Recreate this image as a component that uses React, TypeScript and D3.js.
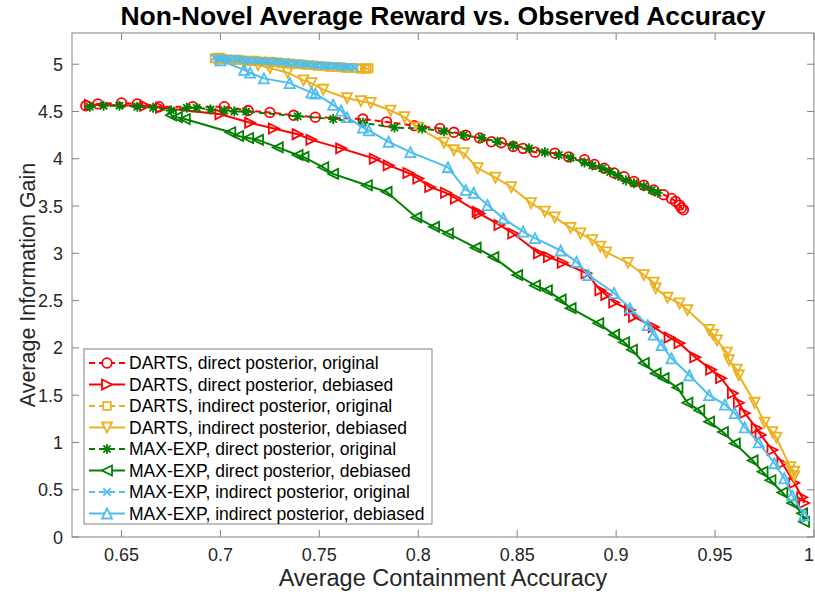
import React from 'react'
import * as d3 from 'd3'

// axis ticks
const xTicks = [0.65, 0.7, 0.75, 0.8, 0.85, 0.9, 0.95, 1]
const yTicks = [0, 0.5, 1, 1.5, 2, 2.5, 3, 3.5, 4, 4.5, 5]

// series: [containment accuracy, information gain]
const dartsDirectOrig = [[0.632,4.56],[0.638,4.58],[0.650,4.59],[0.658,4.58],[0.669,4.55],[0.686,4.55],[0.702,4.55],[0.714,4.51],[0.725,4.49],[0.737,4.46],[0.748,4.44],[0.772,4.42],[0.784,4.39],[0.798,4.35],[0.811,4.32],[0.818,4.28],[0.824,4.25],[0.831,4.22],[0.837,4.18],[0.842,4.17],[0.848,4.13],[0.853,4.11],[0.859,4.07],[0.869,4.06],[0.876,4.02],[0.884,3.99],[0.889,3.94],[0.894,3.90],[0.899,3.85],[0.904,3.81],[0.909,3.76],[0.914,3.72],[0.919,3.67],[0.924,3.62],[0.928,3.58],[0.930,3.55],[0.932,3.51],[0.933,3.48],[0.934,3.46]]
const dartsDirectDeb = [[0.634,4.57],[0.662,4.56],[0.670,4.54],[0.700,4.47],[0.715,4.38],[0.727,4.32],[0.739,4.26],[0.746,4.20],[0.761,4.11],[0.778,4.00],[0.785,3.93],[0.795,3.85],[0.800,3.79],[0.806,3.70],[0.814,3.64],[0.819,3.58],[0.830,3.44],[0.831,3.42],[0.841,3.30],[0.848,3.21],[0.861,3.00],[0.866,2.96],[0.873,2.90],[0.885,2.79],[0.892,2.61],[0.895,2.56],[0.899,2.48],[0.907,2.40],[0.909,2.33],[0.919,2.22],[0.927,2.11],[0.932,2.05],[0.940,1.90],[0.948,1.77],[0.953,1.68],[0.959,1.52],[0.962,1.42],[0.965,1.31],[0.971,1.15],[0.973,1.08],[0.979,0.92],[0.984,0.78],[0.990,0.57],[0.994,0.42],[0.995,0.36]]
const dartsIndirectOrig = [[0.697,5.06],[0.699,5.05],[0.701,5.06],[0.703,5.05],[0.705,5.05],[0.707,5.04],[0.709,5.05],[0.711,5.04],[0.713,5.04],[0.715,5.03],[0.717,5.04],[0.719,5.03],[0.721,5.03],[0.723,5.02],[0.725,5.03],[0.727,5.02],[0.729,5.02],[0.731,5.01],[0.733,5.01],[0.735,5.01],[0.737,5.00],[0.739,5.00],[0.741,5.00],[0.743,4.99],[0.745,4.99],[0.747,4.99],[0.749,4.98],[0.751,4.98],[0.753,4.98],[0.755,4.97],[0.757,4.97],[0.759,4.97],[0.761,4.97],[0.763,4.96],[0.765,4.96],[0.767,4.96],[0.769,4.96],[0.771,4.95],[0.773,4.96],[0.774,4.95],[0.775,4.96]]
const dartsIndirectDeb = [[0.699,5.06],[0.712,5.01],[0.719,4.99],[0.725,4.96],[0.734,4.91],[0.742,4.83],[0.746,4.80],[0.752,4.73],[0.764,4.64],[0.771,4.61],[0.776,4.59],[0.786,4.51],[0.793,4.44],[0.800,4.33],[0.813,4.17],[0.818,4.09],[0.823,4.06],[0.830,3.90],[0.839,3.80],[0.847,3.70],[0.857,3.53],[0.864,3.44],[0.869,3.38],[0.877,3.27],[0.882,3.21],[0.888,3.14],[0.892,3.07],[0.895,3.01],[0.906,2.90],[0.914,2.77],[0.919,2.69],[0.920,2.63],[0.926,2.53],[0.932,2.47],[0.936,2.40],[0.947,2.19],[0.949,2.14],[0.951,2.08],[0.956,1.95],[0.957,1.87],[0.961,1.77],[0.962,1.71],[0.970,1.42],[0.975,1.21],[0.979,1.11],[0.981,1.05],[0.988,0.74],[0.990,0.69],[0.990,0.64]]
const maxExpDirectOrig = [[0.634,4.55],[0.641,4.56],[0.649,4.56],[0.658,4.55],[0.666,4.54],[0.675,4.51],[0.683,4.54],[0.688,4.54],[0.695,4.52],[0.702,4.51],[0.707,4.50],[0.713,4.50],[0.739,4.45],[0.757,4.42],[0.772,4.38],[0.788,4.33],[0.802,4.32],[0.813,4.29],[0.823,4.25],[0.832,4.22],[0.840,4.18],[0.848,4.14],[0.856,4.11],[0.864,4.07],[0.871,4.04],[0.877,4.01],[0.884,3.96],[0.888,3.93],[0.893,3.90],[0.897,3.86],[0.901,3.82],[0.905,3.77],[0.909,3.74],[0.914,3.71],[0.918,3.67],[0.921,3.64]]
const maxExpDirectDeb = [[0.675,4.46],[0.678,4.44],[0.682,4.42],[0.705,4.28],[0.709,4.24],[0.714,4.22],[0.719,4.20],[0.729,4.12],[0.739,4.04],[0.742,4.02],[0.752,3.91],[0.757,3.84],[0.774,3.72],[0.784,3.65],[0.799,3.38],[0.808,3.28],[0.815,3.21],[0.829,3.06],[0.838,2.96],[0.850,2.77],[0.859,2.66],[0.865,2.61],[0.872,2.51],[0.877,2.42],[0.891,2.26],[0.899,2.14],[0.904,2.06],[0.908,1.98],[0.914,1.84],[0.920,1.73],[0.924,1.68],[0.931,1.58],[0.936,1.42],[0.942,1.34],[0.947,1.22],[0.954,1.11],[0.960,0.99],[0.969,0.81],[0.974,0.69],[0.978,0.60],[0.984,0.47],[0.989,0.36],[0.994,0.25],[0.995,0.16]]
const maxExpIndirectOrig = [[0.697,5.07],[0.699,5.06],[0.701,5.06],[0.703,5.06],[0.705,5.05],[0.707,5.06],[0.709,5.05],[0.711,5.05],[0.713,5.04],[0.715,5.04],[0.717,5.04],[0.719,5.03],[0.721,5.04],[0.723,5.03],[0.725,5.03],[0.727,5.02],[0.729,5.03],[0.731,5.02],[0.733,5.02],[0.735,5.01],[0.737,5.01],[0.739,5.01],[0.741,5.00],[0.743,5.00],[0.745,5.00],[0.747,4.99],[0.749,4.99],[0.751,4.99],[0.753,4.98],[0.755,4.98],[0.757,4.98],[0.759,4.98],[0.761,4.97],[0.763,4.97],[0.765,4.97],[0.767,4.97],[0.768,4.96]]
const maxExpIndirectDeb = [[0.700,5.04],[0.712,4.94],[0.715,4.91],[0.722,4.85],[0.735,4.80],[0.746,4.70],[0.748,4.69],[0.757,4.57],[0.761,4.51],[0.764,4.44],[0.772,4.33],[0.775,4.30],[0.785,4.18],[0.796,4.07],[0.815,3.91],[0.824,3.67],[0.828,3.64],[0.835,3.51],[0.843,3.37],[0.853,3.23],[0.859,3.16],[0.872,3.03],[0.880,2.91],[0.886,2.77],[0.899,2.58],[0.907,2.42],[0.916,2.24],[0.919,2.14],[0.923,2.03],[0.928,1.89],[0.937,1.71],[0.947,1.50],[0.955,1.40],[0.960,1.31],[0.965,1.16],[0.972,1.00],[0.980,0.78],[0.985,0.62],[0.989,0.44],[0.995,0.23]]

const series = [
  { name: 'DARTS, direct posterior, original', data: dartsDirectOrig, color: '#FF0000', dash: '6 4', marker: 'circle' },
  { name: 'DARTS, direct posterior, debiased', data: dartsDirectDeb, color: '#FF0000', dash: null, marker: 'triRight' },
  { name: 'DARTS, indirect posterior, original', data: dartsIndirectOrig, color: '#EDB120', dash: '6 4', marker: 'square' },
  { name: 'DARTS, indirect posterior, debiased', data: dartsIndirectDeb, color: '#EDB120', dash: null, marker: 'triDown' },
  { name: 'MAX-EXP, direct posterior, original', data: maxExpDirectOrig, color: '#008000', dash: '6 4', marker: 'asterisk' },
  { name: 'MAX-EXP, direct posterior, debiased', data: maxExpDirectDeb, color: '#008000', dash: null, marker: 'triLeft' },
  { name: 'MAX-EXP, indirect posterior, original', data: maxExpIndirectOrig, color: '#4DBEEE', dash: '6 4', marker: 'cross' },
  { name: 'MAX-EXP, indirect posterior, debiased', data: maxExpIndirectDeb, color: '#4DBEEE', dash: null, marker: 'triUp' },
]

const W = 815, H = 598
const M = { left: 72, right: 814, top: 33, bottom: 537 }
const FONT = '"Liberation Sans", Arial, Helvetica, sans-serif'

// marker outline around (0,0)
function markerPath(kind: string): string {
  const h = 5
  const d = h * 0.72
  switch (kind) {
    case 'triRight': return `M${-h},${-h}L${h},0L${-h},${h}Z`
    case 'triLeft': return `M${h},${-h}L${-h},0L${h},${h}Z`
    case 'triDown': return `M${-h},${-h}L${h},${-h}L0,${h}Z`
    case 'triUp': return `M${-h},${h}L${h},${h}L0,${-h}Z`
    case 'square': return `M-3.8,-3.8H3.8V3.8H-3.8Z`
    case 'asterisk': return `M${-h},0H${h}M0,${-h}V${h}M${-d},${-d}L${d},${d}M${-d},${d}L${d},${-d}`
    case 'cross': return `M${-d},${-d}L${d},${d}M${-d},${d}L${d},${-d}`
    default: return d3.symbol(d3.symbolCircle, 72)() || ''
  }
}

export default function App() {
  const x = d3.scaleLinear().domain([0.625, 1]).range([M.left, M.right])
  const y = d3.scaleLinear().domain([0, 5.33]).range([M.bottom, M.top])
  const line = d3.line<number[]>().x(d => x(d[0])).y(d => y(d[1]))

  const legX = 84, legY = 349, legW = 348, legH = 175, rowH = 21.5

  return (
    <svg width={W} height={H} style={{ position: 'absolute', left: 0, top: 0, background: '#fff' }}
      fontFamily={FONT}>
      <rect x={0} y={0} width={W} height={H} fill="#fff" />

      {/* title */}
      <text x={(M.left + M.right) / 2} y={25} textAnchor="middle" fontSize={26.5} fontWeight="bold" fill="#000">
        Non-Novel Average Reward vs. Observed Accuracy
      </text>

      {/* axes box + ticks */}
      <g stroke="#808080" strokeWidth={1} fill="none">
        <rect x={M.left} y={M.top} width={M.right - M.left} height={M.bottom - M.top} />
        {xTicks.map(t => (
          <g key={'xt' + t}>
            <line x1={x(t)} x2={x(t)} y1={M.bottom} y2={M.bottom - 7} />
            <line x1={x(t)} x2={x(t)} y1={M.top} y2={M.top + 7} />
          </g>
        ))}
        {yTicks.map(t => (
          <g key={'yt' + t}>
            <line x1={M.left} x2={M.left + 7} y1={y(t)} y2={y(t)} />
            <line x1={M.right} x2={M.right - 7} y1={y(t)} y2={y(t)} />
          </g>
        ))}
      </g>
      <g fontSize={18} fill="#262626">
        {xTicks.map(t => (
          <text key={'xl' + t} x={Math.min(x(t), 809)} y={561} textAnchor="middle">{String(t)}</text>
        ))}
        {yTicks.map(t => (
          <text key={'yl' + t} x={63} y={y(t) + 6.5} textAnchor="end">{String(t)}</text>
        ))}
      </g>
      <text x={(M.left + M.right) / 2} y={586} textAnchor="middle" fontSize={23.5} fill="#262626">
        Average Containment Accuracy
      </text>
      <text transform={`translate(35,${(M.top + M.bottom) / 2}) rotate(-90)`} textAnchor="middle" fontSize={21.5} fill="#262626">
        Average Information Gain
      </text>

      {/* data */}
      <g>
        {series.map(s => (
          <g key={s.name}>
            <path d={line(s.data) || ''} fill="none" stroke={s.color} strokeWidth={2}
              strokeDasharray={s.dash || undefined} />
            {s.data.map((p, i) => (
              <path key={i} transform={`translate(${x(p[0])},${y(p[1])})`} d={markerPath(s.marker)}
                fill="none" stroke={s.color} strokeWidth={1.8} />
            ))}
          </g>
        ))}
      </g>

      {/* legend */}
      <g>
        <rect x={legX} y={legY} width={legW} height={legH} fill="#fff" stroke="#808080" strokeWidth={1} />
        {series.map((s, i) => {
          const cy = legY + 14 + i * rowH
          return (
            <g key={'lg' + i}>
              <line x1={legX + 5} x2={legX + 41} y1={cy} y2={cy} stroke={s.color} strokeWidth={2}
                strokeDasharray={s.dash || undefined} />
              <path transform={`translate(${legX + 23},${cy})`} d={markerPath(s.marker)} fill="#fff"
                stroke={s.color} strokeWidth={1.8} />
              <text x={legX + 45} y={cy + 6} fontSize={17.5} fill="#000">{s.name}</text>
            </g>
          )
        })}
      </g>
    </svg>
  )
}
